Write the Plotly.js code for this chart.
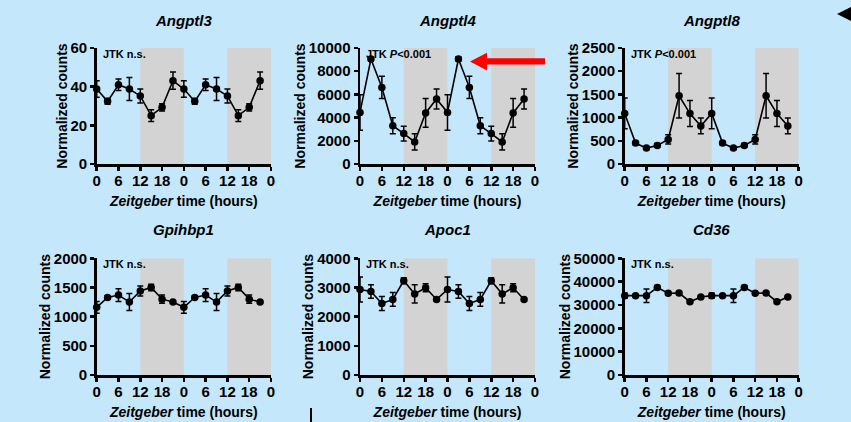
<!DOCTYPE html>
<html>
<head>
<meta charset="utf-8">
<script src="https://cdn.plot.ly/plotly-3.0.1.min.js"></script>
<style>
  html, body { margin: 0; padding: 0; background: #c4e7fb; }
  #chart { width: 851px; height: 422px; }
</style>
</head>
<body>
<div id="chart"></div>
<script>
// ---- data (double-plotted, ZT 0..45 every 3 h) ----
const hours = [0, 3, 6, 9, 12, 15, 18, 21, 24, 27, 30, 33, 36, 39, 42, 45];
const xTickVals = [0, 6, 12, 18, 24, 30, 36, 42, 48];
const xTickText = ['0', '6', '12', '18', '0', '6', '12', '18', '0'];
const darkStarts = [12, 36];
const darkLength = 12;

const genes = ['Angptl3', 'Angptl4', 'Angptl8', 'Gpihbp1', 'Apoc1', 'Cd36'];
const jtkLabels = ['JTK n.s.', 'JTK <i>P</i>&lt;0.001', 'JTK <i>P</i>&lt;0.001', 'JTK n.s.', 'JTK n.s.', 'JTK n.s.'];
const yMax = [60, 10000, 2500, 2000, 4000, 50000];
const yDtick = [20, 2000, 500, 500, 1000, 10000];

const angptl3 = [38.8, 32.4, 41, 38.8, 35.2, 25, 29.3, 43.1, 38.8, 32.4, 41, 38.8, 35.2, 25, 29.3, 43.1];
const angptl3Err = [4.3, 1.5, 3, 5.9, 3.6, 3, 1.9, 4.5, 4.3, 1.5, 3, 5.9, 3.6, 3, 1.9, 4.5];
const angptl4 = [4450, 9050, 6600, 3300, 2620, 1900, 4400, 5600, 4450, 9050, 6600, 3300, 2620, 1900, 4400, 5600];
const angptl4Err = [1530, 200, 960, 690, 630, 700, 1240, 860, 1530, 200, 960, 690, 630, 700, 1240, 860];
const angptl8 = [1090, 450, 343, 400, 530, 1470, 1086, 820, 1090, 450, 343, 400, 530, 1470, 1086, 820];
const angptl8Err = [330, 40, 30, 40, 100, 480, 280, 170, 330, 40, 30, 40, 100, 480, 280, 170];
const gpihbp1 = [1160, 1330, 1370, 1250, 1440, 1500, 1300, 1250, 1160, 1330, 1370, 1250, 1440, 1500, 1300, 1250];
const gpihbp1Err = [100, 25, 110, 145, 85, 57, 70, 20, 100, 25, 110, 145, 85, 57, 70, 20];
const apoc1 = [2930, 2860, 2450, 2590, 3230, 2780, 2990, 2590, 2930, 2860, 2450, 2590, 3230, 2780, 2990, 2590];
const apoc1Err = [430, 230, 240, 235, 100, 310, 140, 40, 430, 230, 240, 235, 100, 310, 140, 40];
const cd36 = [34000, 34000, 34000, 37500, 35000, 35100, 31400, 33400, 34000, 34000, 34000, 37500, 35000, 35100, 31400, 33400];
const cd36Err = [1100, 300, 2900, 800, 600, 700, 500, 600, 1100, 300, 2900, 800, 600, 700, 500, 600];

const series = [angptl3, angptl4, angptl8, gpihbp1, apoc1, cd36];
const seriesErr = [angptl3Err, angptl4Err, angptl8Err, gpihbp1Err, apoc1Err, cd36Err];

// ---- layout geometry (pixels) ----
const W = 851, H = 422;
const px = v => v / W;
const py = v => 1 - v / H;
const colX = [[96.7, 271], [360, 535], [624.7, 798.7]];
const rowY = [[48, 164], [258.3, 375]];
const titleY = [20, 230];

const FONT = '"Liberation Sans", Arial, Helvetica, sans-serif';
const BG = '#c4e7fb';

const traces = [];
const layout = {
  width: W, height: H,
  margin: {l: 0, r: 0, t: 0, b: 0},
  paper_bgcolor: BG, plot_bgcolor: 'rgba(0,0,0,0)',
  showlegend: false,
  font: {family: FONT, color: '#000'},
  shapes: [], annotations: []
};

genes.forEach((g, i) => {
  const r = Math.floor(i / 3), c = i % 3;
  const sfx = i === 0 ? '' : String(i + 1);
  const xn = 'x' + sfx, yn = 'y' + sfx;
  traces.push({
    x: hours, y: series[i],
    error_y: {type: 'data', array: seriesErr[i], visible: true, color: '#000', thickness: 1.5, width: 3},
    mode: 'lines+markers',
    line: {color: '#000', width: 1.6},
    marker: {color: '#000', size: 7.5},
    xaxis: xn, yaxis: yn, cliponaxis: false, hoverinfo: 'skip'
  });
  const common = {
    showline: true, linecolor: '#000', linewidth: 2.5,
    ticks: 'outside', ticklen: 4, tickwidth: 2.5, tickcolor: '#000',
    showgrid: false, zeroline: false, fixedrange: true,
    tickfont: {family: FONT, size: 15, color: '#000', weight: 'bold'}
  };
  layout['xaxis' + sfx] = Object.assign({}, common, {
    domain: [px(colX[c][0]), px(colX[c][1])], anchor: yn,
    range: [0, 48], tickmode: 'array', tickvals: xTickVals, ticktext: xTickText,
    ticklabelstandoff: -3,
    title: {text: '<i>Zeitgeber</i> time (hours)', standoff: 9,
            font: {family: FONT, size: 14, color: '#000', weight: 'bold'}}
  });
  layout['yaxis' + sfx] = Object.assign({}, common, {
    domain: [py(rowY[r][1]), py(rowY[r][0])], anchor: xn,
    range: [0, yMax[i]], tick0: 0, dtick: yDtick[i], tickformat: 'd',
    title: {text: 'Normalized counts', standoff: 0,
            font: {family: FONT, size: 14, color: '#000', weight: 'bold'}}
  });
  darkStarts.forEach(d => {
    layout.shapes.push({type: 'rect', xref: xn, yref: yn, x0: d, x1: d + darkLength, y0: 0, y1: yMax[i],
      fillcolor: '#d3d3d3', line: {width: 0}, layer: 'below'});
  });
  layout.annotations.push({
    text: '<b><i>' + g + '</i></b>', xref: 'paper', yref: 'paper',
    x: (px(colX[c][0]) + px(colX[c][1])) / 2, y: py(titleY[r]),
    xanchor: 'center', yanchor: 'middle', showarrow: false,
    font: {family: FONT, size: 15, color: '#000'}
  });
  layout.annotations.push({
    text: '<b>' + jtkLabels[i] + '</b>', xref: xn + ' domain', yref: yn + ' domain',
    x: 0, y: 1, xanchor: 'left', yanchor: 'top', xshift: 4, yshift: 2, showarrow: false,
    font: {family: FONT, size: 11, color: '#000'}
  });
});

// red arrow pointing at Angptl4 peak
layout.shapes.push({type: 'rect', xref: 'paper', yref: 'paper',
  x0: px(486), x1: px(545), y0: py(64.5), y1: py(58.3), fillcolor: '#ff0000', line: {width: 0}});
layout.shapes.push({type: 'path', xref: 'paper', yref: 'paper',
  path: `M ${px(470)} ${py(61.5)} L ${px(487)} ${py(52.7)} L ${px(487)} ${py(70.5)} Z`,
  fillcolor: '#ff0000', line: {width: 0}});
// black pointer at top-right edge
layout.shapes.push({type: 'path', xref: 'paper', yref: 'paper',
  path: `M ${px(837)} ${py(14)} L ${px(851)} ${py(7)} L ${px(851)} ${py(21)} Z`,
  fillcolor: '#000', line: {width: 0}});
// small vertical mark at bottom
layout.shapes.push({type: 'line', xref: 'paper', yref: 'paper',
  x0: px(311), x1: px(311), y0: py(408), y1: py(422), line: {color: '#000', width: 2}});

Plotly.newPlot('chart', traces, layout, {staticPlot: true, displayModeBar: false});
</script>
</body>
</html>
